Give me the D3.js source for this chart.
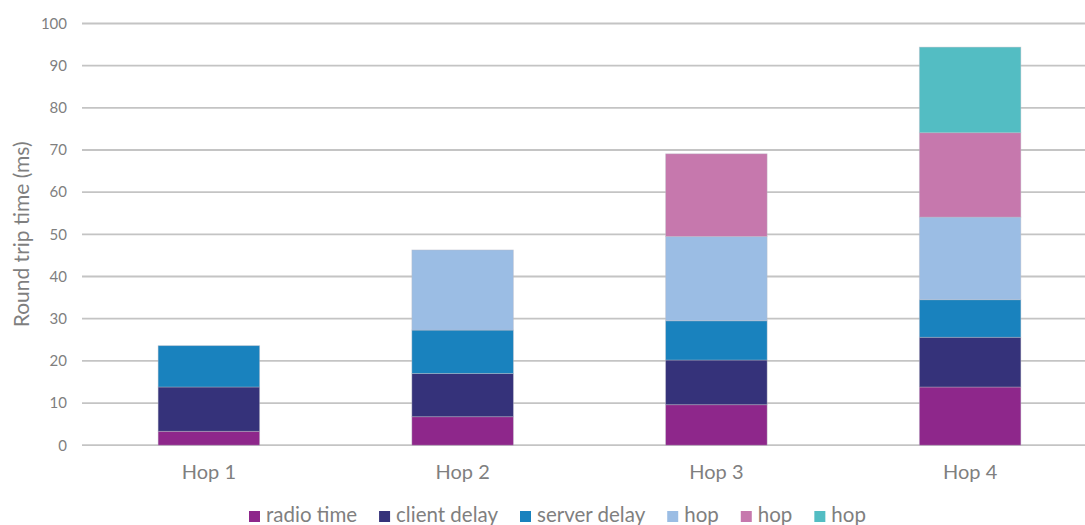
<!DOCTYPE html>
<html>
<head>
<meta charset="utf-8">
<script src="https://cdn.jsdelivr.net/npm/d3@7"></script>
<style>
  html, body { margin: 0; padding: 0; background: #fff; }
  svg { display: block; font-family: "Lato", "Open Sans", sans-serif; }
</style>
</head>
<body>
<svg id="chart" width="1085" height="525"></svg>
<script>
const categories = ["Hop 1", "Hop 2", "Hop 3", "Hop 4"];
const seriesNames = ["radio time", "client delay", "server delay", "hop", "hop", "hop"];
const seriesColors = ["#8E278B", "#35327A", "#1982BE", "#9BBDE4", "#C678AD", "#53BDC3"];
// segment values per series, per category
const radioTime   = [3.3, 6.75, 9.6, 13.8];
const clientDelay = [10.5, 10.25, 10.6, 11.8];
const serverDelay = [9.8, 10.3, 9.3, 8.9];
const hopA        = [0, 19.0, 20.0, 19.6];
const hopB        = [0, 0, 19.6, 20.0];
const hopC        = [0, 0, 0, 20.3];
const yTicks = [0, 10, 20, 30, 40, 50, 60, 70, 80, 90, 100];

const seriesValues = [radioTime, clientDelay, serverDelay, hopA, hopB, hopC];
const keys = seriesValues.map((_, i) => "s" + i);
const table = categories.map((c, ci) => {
  const row = { cat: c };
  keys.forEach((k, si) => row[k] = seriesValues[si][ci]);
  return row;
});

const svg = d3.select("#chart");
const margin = { left: 82, right: -12, top: 23.5, bottom: 79.8 };
const W = 1085, H = 525;

const x = d3.scaleBand().domain(categories)
  .range([margin.left, W - margin.right])
  .paddingInner(0.6).paddingOuter(0.3);
const y = d3.scaleLinear().domain([0, 100]).range([H - margin.bottom, margin.top]);

// gridlines
svg.append("g")
  .selectAll("line").data(yTicks).join("line")
  .attr("x1", margin.left).attr("x2", W)
  .attr("y1", d => y(d)).attr("y2", d => y(d))
  .attr("stroke", "#c4c4c4").attr("stroke-width", 1.8);

// y axis labels
const yAxis = d3.axisLeft(y).tickValues(yTicks).tickSize(0).tickPadding(0);
const gy = svg.append("g").attr("transform", `translate(${margin.left - 15},0)`).call(yAxis);
gy.select(".domain").remove();
gy.selectAll("text").attr("fill", "#7f7f7f").style("font-size", "15px")
  .style("font-family", "Lato, 'Open Sans', sans-serif");

// x axis labels
const xAxis = d3.axisBottom(x).tickSize(0).tickPadding(0);
const gx = svg.append("g").attr("transform", `translate(0,${y(0) + 20})`).call(xAxis);
gx.select(".domain").remove();
gx.selectAll("text").attr("fill", "#7f7f7f").style("font-size", "20px")
  .style("font-family", "Lato, 'Open Sans', sans-serif");

// stacked bars
const stacked = d3.stack().keys(keys)(table);
svg.append("g").selectAll("g").data(stacked).join("g")
  .attr("fill", (d, i) => seriesColors[i])
  .selectAll("rect").data(d => d.filter(s => s[1] - s[0] > 0)).join("rect")
  .attr("x", d => x(d.data.cat))
  .attr("width", x.bandwidth())
  .attr("y", d => y(d[1]))
  .attr("height", d => y(d[0]) - y(d[1]))
  .attr("stroke", "rgba(190,190,200,0.5)")
  .attr("stroke-width", 0.8);

// y axis title
svg.append("text")
  .attr("transform", `translate(29,${(y(0) + y(100)) / 2}) rotate(-90)`)
  .attr("text-anchor", "middle")
  .attr("fill", "#7f7f7f")
  .style("font-size", "21px")
  .text("Round trip time (ms)");

// legend
const legend = svg.append("g").attr("transform", "translate(249,522)");
let lx = 0;
seriesNames.forEach((name, i) => {
  const g = legend.append("g").attr("transform", `translate(${lx},0)`);
  g.append("rect").attr("x", 0).attr("y", -11).attr("width", 11).attr("height", 11)
    .attr("fill", seriesColors[i]);
  const t = g.append("text").attr("x", 17).attr("y", 0)
    .attr("fill", "#7f7f7f").style("font-size", "20.5px").text(name);
  lx += 17 + t.node().getComputedTextLength() + 22;
});
</script>
</body>
</html>
